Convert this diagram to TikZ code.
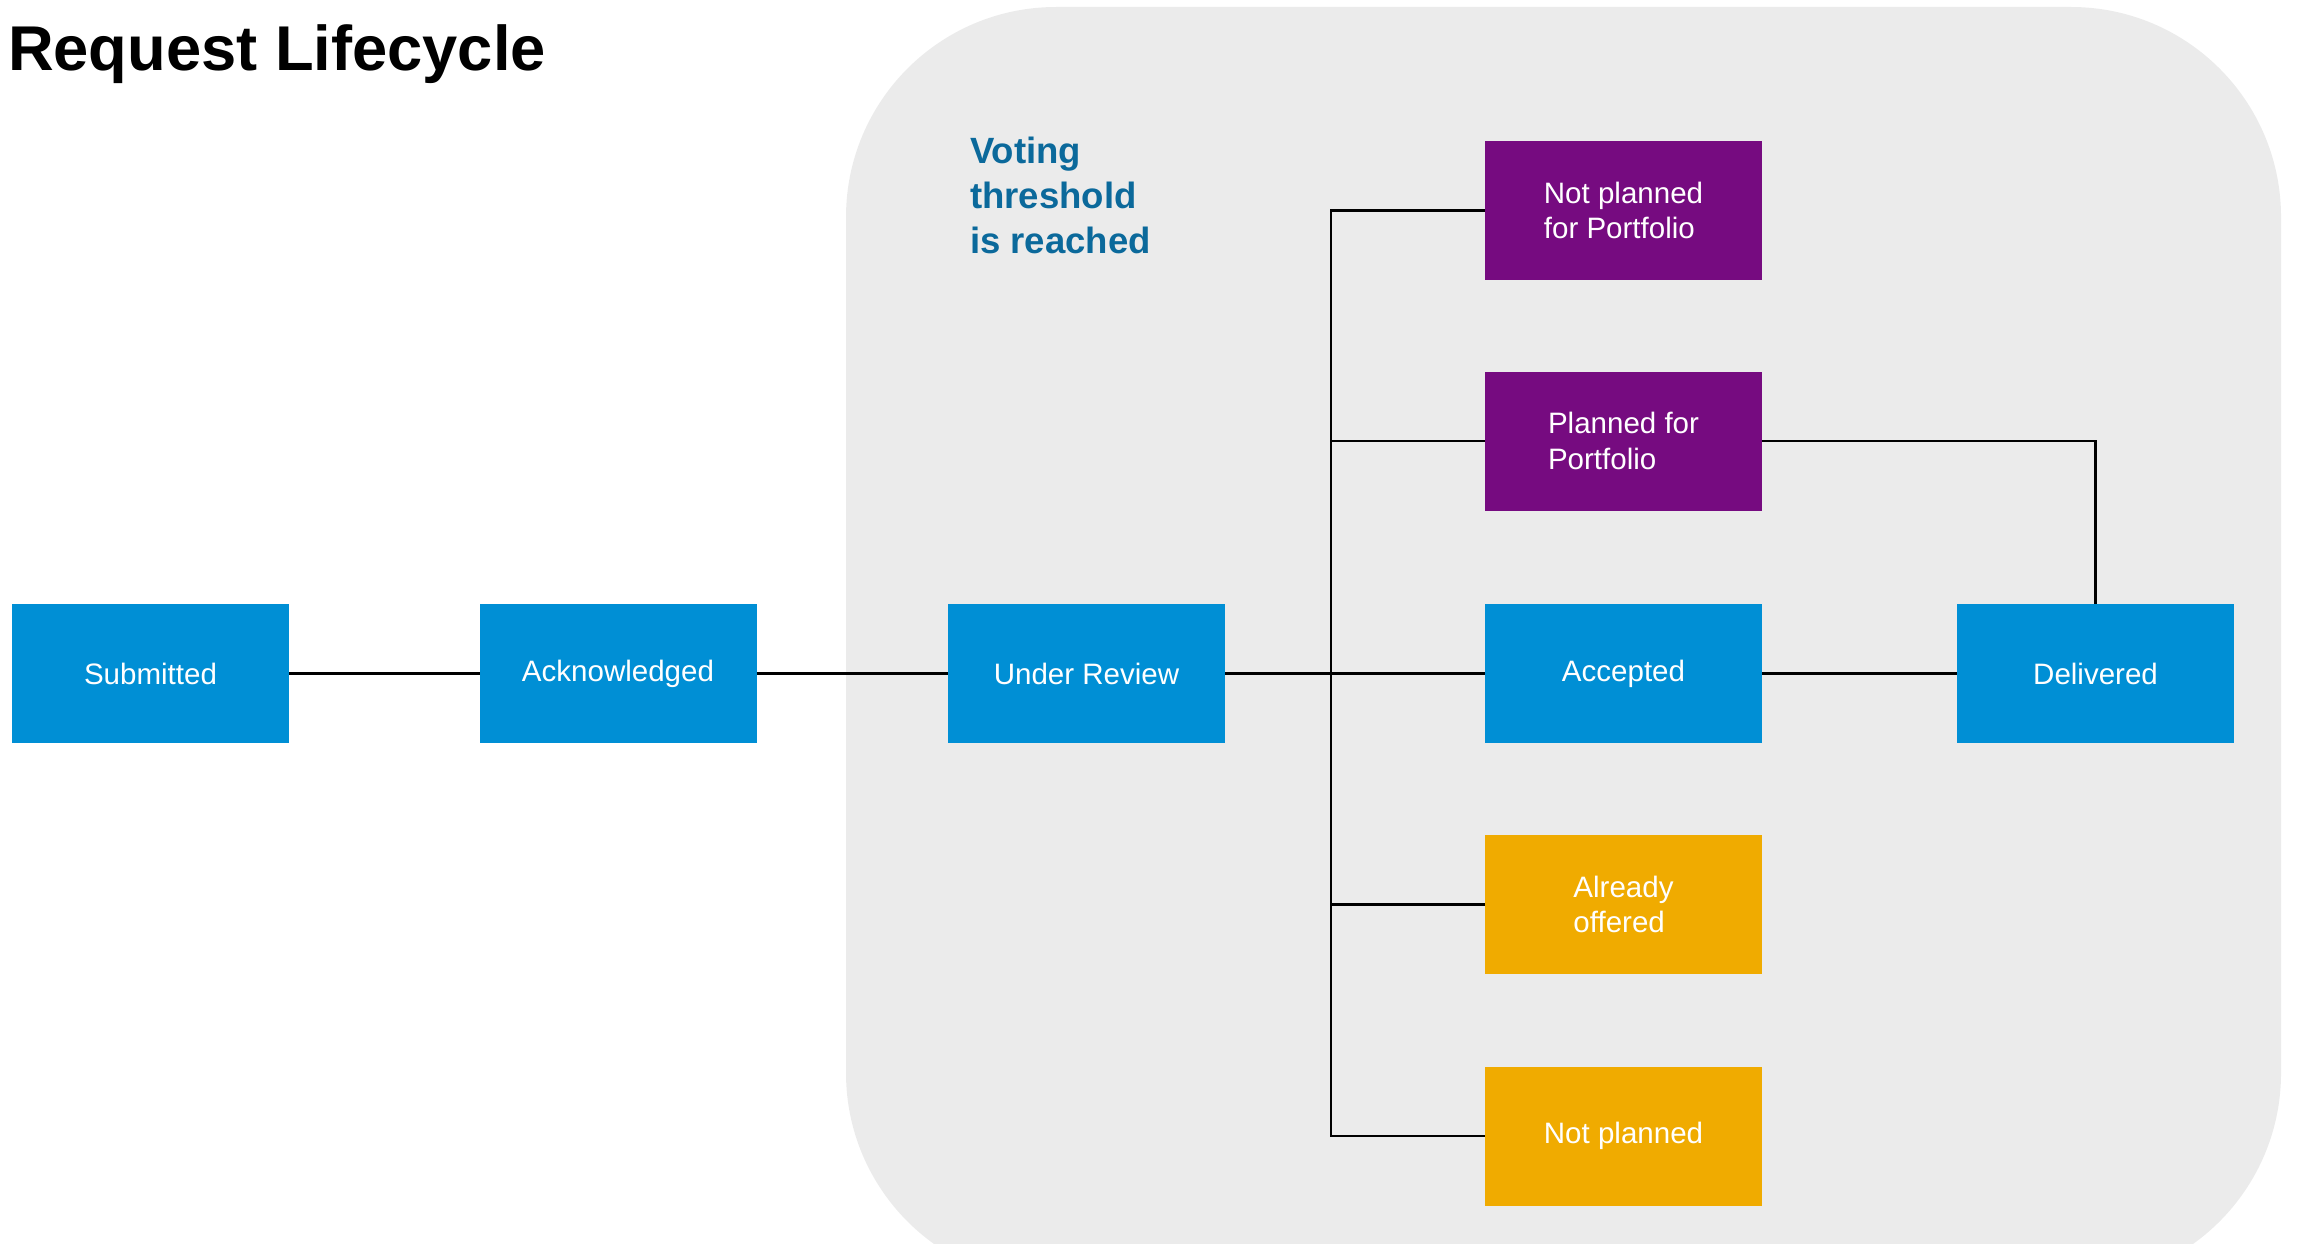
\documentclass[tikz,border=0pt]{standalone}
\usepackage{fontspec}
\setmainfont{Liberation Sans}
\usepackage{tikz}
\definecolor{Blau}{RGB}{0,143,213}
\definecolor{Lila}{RGB}{118,11,128}
\definecolor{Gelb}{RGB}{240,171,0}
\definecolor{Grau}{RGB}{235,235,235}
\definecolor{Schrift}{RGB}{11,105,155}
\tikzstyle{Kasten}= [rectangle,fill=Blau,text=white,minimum width=2.77cm,minimum height=1.39cm,inner sep=0pt,outer sep=0pt,align=left,font=\fontsize{8.4}{10}\selectfont]

\begin{document}
\begin{tikzpicture}[line width=0.6pt]

		\useasboundingbox (0,0) rectangle (22.99,12.43);
		\fill[Grau,rounded corners=2.1cm] (8.46,-0.4) rectangle (22.81,12.36);

		\node [anchor=base west,inner sep=0pt,font=\fontsize{18}{22}\selectfont\bfseries] (titel) at (0.07,11.72) {Request Lifecycle};
		\node [anchor=north west,inner sep=0pt,align=left,text=Schrift,font=\fontsize{10.4}{12.8}\selectfont\bfseries] (schwelle) at (9.69,11.07) {Voting\\threshold\\is reached};

		\node [Kasten] (0) at (1.505,5.695) {Submitted};
		\node [Kasten] (1) at (6.18,5.695) {Acknowledged};
		\node [Kasten] (2) at (10.865,5.695) {Under Review};
		\node [Kasten,fill=Lila] (3) at (16.235,10.325) {Not planned\\for Portfolio};
		\node [Kasten,fill=Lila] (4) at (16.235,8.02) {Planned for\\Portfolio};
		\node [Kasten] (5) at (16.235,5.695) {Accepted};
		\node [Kasten,fill=Gelb] (6) at (16.235,3.385) {Already\\offered};
		\node [Kasten,fill=Gelb] (7) at (16.235,1.07) {Not planned};
		\node [Kasten] (8) at (20.955,5.695) {Delivered};

		\coordinate (v) at (13.31,5.695);

		\draw (0) -- (1);
		\draw (1) -- (2);
		\draw (2) -- (5);
		\draw (3.west) -| (v) |- (7.west);
		\draw (4.west) -- (4.west -| v);
		\draw (6.west) -- (6.west -| v);
		\draw (4.east) -| (8.north);
		\draw (5) -- (8);

\end{tikzpicture}
\end{document}
